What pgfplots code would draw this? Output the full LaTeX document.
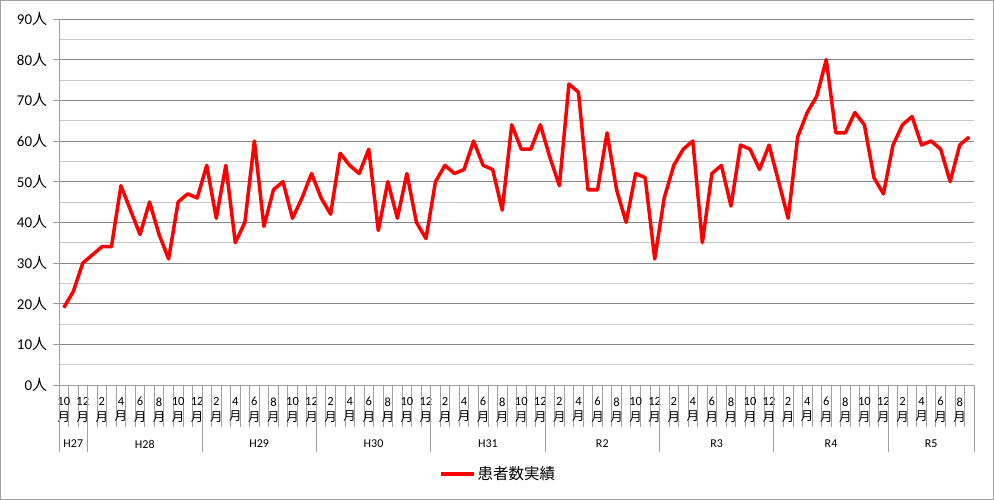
\documentclass[border=0pt]{standalone}
\usepackage{pgfplots}
\pgfplotsset{compat=1.18}
\usepackage{fontspec}
\setmainfont{Carlito}
\newfontfamily\jp{Noto Sans CJK JP}
\def\M{{\jp 月}}
\def\N{{\jp 人}}
\definecolor{axgray}{HTML}{A0A0A0}
\definecolor{majgrid}{HTML}{868686}
\definecolor{mingrid}{HTML}{C8C8C8}
\begin{document}
\begin{tikzpicture}
\useasboundingbox (0,0) rectangle (994pt,500pt);
\draw[color=axgray, line width=1pt] (0.5pt,0.5pt) rectangle (993.5pt,499.5pt);
\begin{axis}[
  at={(59pt,115pt)}, anchor=south west,
  scale only axis, width=915pt, height=366pt,
  xmin=-0.5, xmax=95.5, ymin=0, ymax=90,
  clip=false,
  axis lines=left, axis line style={-, draw=axgray, line width=0.8pt},
  tick align=outside,
  minor tick length=0pt,
  ytick={0,10,...,90},
  minor ytick={5,15,...,85},
  yticklabels={0\N,10\N,20\N,30\N,40\N,50\N,60\N,70\N,80\N,90\N},
  yticklabel style={font=\fontsize{15}{18}\selectfont, xshift=-4pt},
  y tick style={/pgfplots/major tick length=6pt, draw=axgray, line width=0.8pt},
  ymajorgrids, yminorgrids,
  major grid style={draw=majgrid, line width=0.9pt},
  minor grid style={draw=mingrid, line width=0.8pt},
  xtick={-0.5,0.5,...,95.5},
  x tick label as interval,
  xticklabels={{10\\\M},{},{12\\\M},{},
    {2\\\M},{},{4\\\M},{},{6\\\M},{},{8\\\M},{},{10\\\M},{},{12\\\M},{},
    {2\\\M},{},{4\\\M},{},{6\\\M},{},{8\\\M},{},{10\\\M},{},{12\\\M},{},
    {2\\\M},{},{4\\\M},{},{6\\\M},{},{8\\\M},{},{10\\\M},{},{12\\\M},{},
    {2\\\M},{},{4\\\M},{},{6\\\M},{},{8\\\M},{},{10\\\M},{},{12\\\M},{},
    {2\\\M},{},{4\\\M},{},{6\\\M},{},{8\\\M},{},{10\\\M},{},{12\\\M},{},
    {2\\\M},{},{4\\\M},{},{6\\\M},{},{8\\\M},{},{10\\\M},{},{12\\\M},{},
    {2\\\M},{},{4\\\M},{},{6\\\M},{},{8\\\M},{},{10\\\M},{},{12\\\M},{},
    {2\\\M},{},{4\\\M},{},{6\\\M},{},{8\\\M},{}},
  xticklabel style={font=\fontsize{12.5}{15.5}\selectfont, align=center, anchor=north, inner sep=0pt, yshift=-8pt},
  x tick style={/pgfplots/major tick length=42pt, draw=axgray, line width=0.8pt},
  extra x ticks={-0.5,2.5,14.5,26.5,38.5,50.5,62.5,74.5,86.5,95.5},
  extra x tick labels={},
  extra x tick style={x tick style={/pgfplots/major tick length=67pt, draw=axgray, line width=0.8pt}},
  legend style={at={(0.48,-0.243)}, anchor=center, draw=none, fill=none,
    font=\fontsize{15.5}{18}\selectfont, inner sep=1pt},
  legend image code/.code={\draw[#1] (0pt,0pt) -- (33pt,0pt);},
]
\addplot[red, line width=3.5pt, line join=round] table[x=i, y=v] {
i v
0 19
1 23
2 30
3 32
4 34
5 34
6 49
7 43
8 37
9 45
10 37
11 31
12 45
13 47
14 46
15 54
16 41
17 54
18 35
19 40
20 60
21 39
22 48
23 50
24 41
25 46
26 52
27 46
28 42
29 57
30 54
31 52
32 58
33 38
34 50
35 41
36 52
37 40
38 36
39 50
40 54
41 52
42 53
43 60
44 54
45 53
46 43
47 64
48 58
49 58
50 64
51 56
52 49
53 74
54 72
55 48
56 48
57 62
58 48
59 40
60 52
61 51
62 31
63 46
64 54
65 58
66 60
67 35
68 52
69 54
70 44
71 59
72 58
73 53
74 59
75 50
76 41
77 61
78 67
79 71
80 80
81 62
82 62
83 67
84 64
85 51
86 47
87 59
88 64
89 66
90 59
91 60
92 58
93 50
94 59
95 61
};
\addlegendentry{\jp 患者数実績}
\node[font=\fontsize{12}{14}\selectfont, yshift=-59pt] at (axis cs:1,0) {H27};
\node[font=\fontsize{12}{14}\selectfont, yshift=-59pt] at (axis cs:8.5,0) {H28};
\node[font=\fontsize{12}{14}\selectfont, yshift=-59pt] at (axis cs:20.5,0) {H29};
\node[font=\fontsize{12}{14}\selectfont, yshift=-59pt] at (axis cs:32.5,0) {H30};
\node[font=\fontsize{12}{14}\selectfont, yshift=-59pt] at (axis cs:44.5,0) {H31};
\node[font=\fontsize{12}{14}\selectfont, yshift=-59pt] at (axis cs:56.5,0) {R2};
\node[font=\fontsize{12}{14}\selectfont, yshift=-59pt] at (axis cs:68.5,0) {R3};
\node[font=\fontsize{12}{14}\selectfont, yshift=-59pt] at (axis cs:80.5,0) {R4};
\node[font=\fontsize{12}{14}\selectfont, yshift=-59pt] at (axis cs:91,0) {R5};
\end{axis}
\end{tikzpicture}
\end{document}
